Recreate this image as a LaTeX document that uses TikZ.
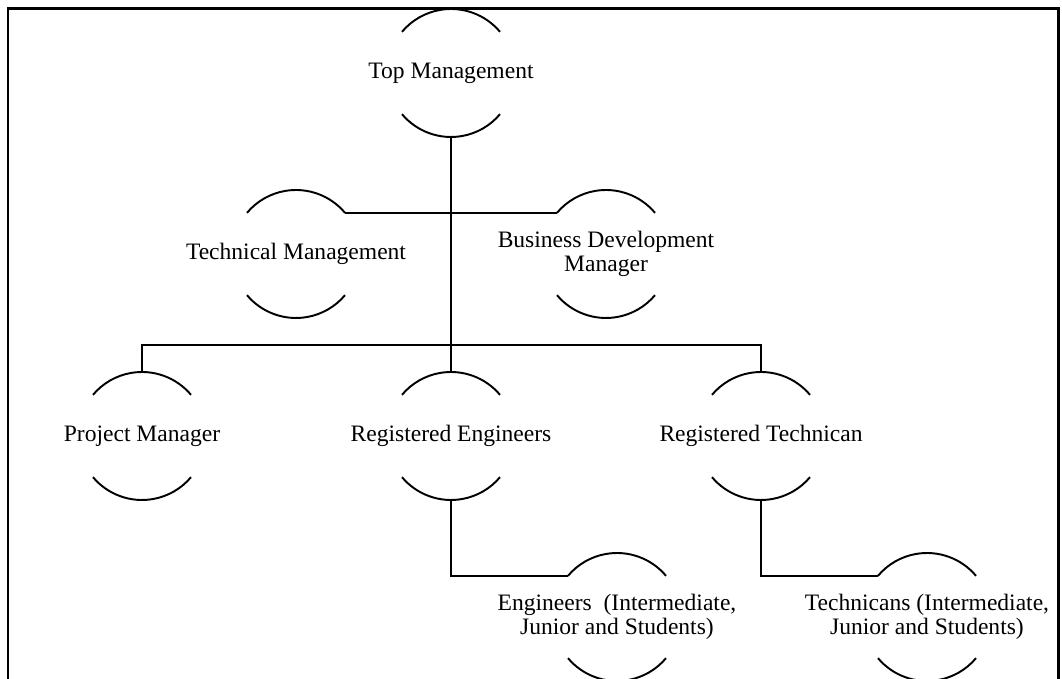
\documentclass[tikz,border=0pt]{standalone}
\usepackage{fontspec}
\setmainfont{Liberation Serif}
\usetikzlibrary{calc}

\tikzset{
	ring/.style={circle, minimum size=2.56cm, inner sep=0pt, outer sep=0pt},
	lbl/.style={align=center, inner sep=0pt, font=\fontsize{13.4}{13.6}\selectfont},
	arcline/.style={line width=1.1pt},
	link/.style={line width=1.1pt}
}

\begin{document}
\begin{tikzpicture}
			%%%%% START %%%%%
			\useasboundingbox (0, 0) rectangle (21.24, -13.58);
			
			\draw[line width=1.7pt] (0.16, -13.58) -- (0.16, -0.18) -- (21.16, -0.18) -- (21.16, -13.58);
			
			\node[ring] (top) at (9.02, -1.46) {};
			\node[lbl] (topt) at (top) {Top Management};
			
			\node[ring] (tech) at (5.92, -5.08) {};
			\node[lbl] (techt) at (tech) {Technical Management};
			\node[ring] (bdm) at (12.12, -5.08) {};
			\node[lbl] (bdmt) at (bdm) {Business Development\\Manager};
			
			\node[ring] (pm) at (2.84, -8.72) {};
			\node[lbl] (pmt) at (pm) {Project Manager};
			\node[ring] (reng) at (9.02, -8.72) {};
			\node[lbl] (rengt) at (reng) {Registered Engineers};
			\node[ring] (rtech) at (15.22, -8.72) {};
			\node[lbl] (rtecht) at (rtech) {Registered Technican};
			
			\node[ring] (eng) at (12.34, -12.34) {};
			\node[lbl] (engt) at (eng) {Engineers~ (Intermediate,\\Junior and Students)};
			\node[ring] (tcn) at (18.54, -12.34) {};
			\node[lbl] (tcnt) at (tcn) {Technicans (Intermediate,\\Junior and Students)};
			
			\foreach \n in {top, tech, bdm, pm, reng, rtech, eng, tcn} {
				\draw[arcline] (\n.40) arc (40:140:1.28);
				\draw[arcline] (\n.220) arc (220:320:1.28);
			}
			
			\draw[link] (top.south) -- (reng.north);
			\draw[link] (tech.40) -- (bdm.140);
			\draw[link] (pm.north) -- ++(0, 0.54) -| (rtech.north);
			\draw[link] (reng.south) |- (eng.140);
			\draw[link] (rtech.south) |- (tcn.140);
			
			%%%%% END %%%%%
\end{tikzpicture}
\end{document}
